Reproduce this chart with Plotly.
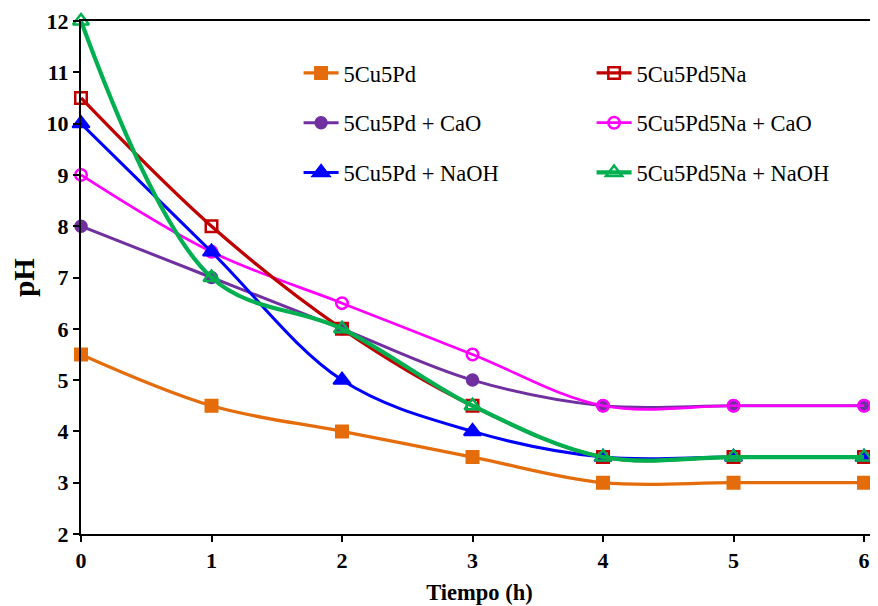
import plotly.graph_objects as go

tiempo = [0, 1, 2, 3, 4, 5, 6]
s_5Cu5Pd = [5.5, 4.5, 4.0, 3.5, 3.0, 3.0, 3.0]
s_5Cu5Pd5Na = [10.5, 8.0, 6.0, 4.5, 3.5, 3.5, 3.5]
s_5Cu5Pd_CaO = [8.0, 7.0, 6.0, 5.0, 4.5, 4.5, 4.5]
s_5Cu5Pd5Na_CaO = [9.0, 7.5, 6.5, 5.5, 4.5, 4.5, 4.5]
s_5Cu5Pd_NaOH = [10.0, 7.5, 5.0, 4.0, 3.5, 3.5, 3.5]
s_5Cu5Pd5Na_NaOH = [12.0, 7.0, 6.0, 4.5, 3.5, 3.5, 3.5]

series = [
    ("5Cu5Pd", s_5Cu5Pd, "#E46C0A", "square", 3.3, 12, 2, "legend"),
    ("5Cu5Pd5Na", s_5Cu5Pd5Na, "#C00000", "square-open", 3.3, 11.5, 2.5, "legend"),
    ("5Cu5Pd + CaO", s_5Cu5Pd_CaO, "#7030A0", "circle", 3, 11.5, 2, "legend2"),
    ("5Cu5Pd5Na + CaO", s_5Cu5Pd5Na_CaO, "#FF00FF", "circle-open", 2.7, 11.5, 2.5, "legend2"),
    ("5Cu5Pd + NaOH", s_5Cu5Pd_NaOH, "#0000FF", "triangle-up", 3, 15, 2, "legend3"),
    ("5Cu5Pd5Na + NaOH", s_5Cu5Pd5Na_NaOH, "#00B050", "triangle-up-open", 4.2, 14, 2.5, "legend3"),
]

fig = go.Figure()
draw_order = [0, 2, 3, 4, 1, 5]
for i in draw_order:
    name, ys, col, sym, lw, ms, mlw, lg = series[i]
    fig.add_trace(go.Scatter(
        x=tiempo, y=ys, name=name, mode="lines+markers",
        line=dict(color=col, width=lw, shape="spline", smoothing=1.0),
        marker=dict(symbol=sym, size=ms, color=col,
                    line=dict(color=col, width=mlw)),
        legend=lg, legendrank=i, cliponaxis=False,
    ))

leg_common = dict(orientation="h", xanchor="left", yanchor="middle",
                  font=dict(family="Liberation Serif", size=22.5, color="black"),
                  bgcolor="rgba(0,0,0,0)", entrywidth=243, entrywidthmode="pixels",
                  itemwidth=35, traceorder="normal")

# page body has an 8px margin, so the figure is sized/offset to fill the window
fig.update_layout(
    width=870, height=598,
    margin=dict(l=73, r=0, t=13, b=72, autoexpand=False),
    plot_bgcolor="white", paper_bgcolor="white",
    showlegend=True,
    legend=dict(x=0.273, y=0.898, **leg_common),
    legend2=dict(x=0.273, y=0.801, **leg_common),
    legend3=dict(x=0.273, y=0.704, **leg_common),
    xaxis=dict(range=[0, 6.107], tickvals=tiempo, ticktext=[str(t) for t in tiempo],
               automargin=False,
               showline=True, linecolor="black", linewidth=2, mirror=True,
               ticks="outside", ticklen=6, tickwidth=2, tickcolor="black",
               showgrid=False, zeroline=False,
               tickfont=dict(family="Liberation Serif", size=22, color="black", weight="bold"),
               title=dict(text="Tiempo (h)", standoff=12,
                          font=dict(family="Liberation Serif", size=22.5, color="black", weight="bold"))),
    yaxis=dict(range=[2, 12], dtick=1, automargin=False,
               showline=True, linecolor="black", linewidth=2,
               ticks="outside", ticklen=6, tickwidth=2, tickcolor="black",
               showgrid=False, zeroline=False,
               tickfont=dict(family="Liberation Serif", size=22, color="black", weight="bold"),
               title=dict(text="pH", standoff=8,
                          font=dict(family="Liberation Serif", size=29, color="black", weight="bold"))),
)

fig.write_html("out.html")
